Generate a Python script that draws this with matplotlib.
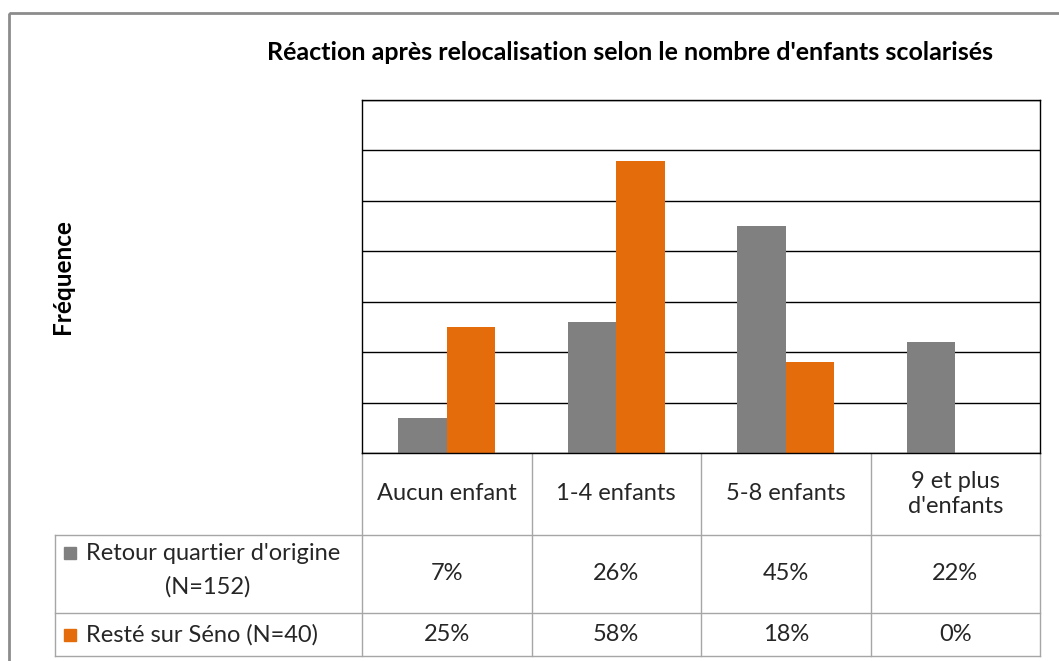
import matplotlib.pyplot as plt
from matplotlib.patches import Rectangle
import numpy as np

plt.rcParams['font.family'] = ['Lato', 'DejaVu Sans']

categories = ['Aucun enfant', '1-4 enfants', '5-8 enfants', '9 et plus\nd\'enfants']
series_names = ['Retour quartier d\'origine\n(N=152)', 'Resté sur Séno (N=40)']
retour = [7, 26, 45, 22]
reste = [25, 58, 18, 0]
colors = ['#808080', '#E46C0A']
title = 'Réaction après relocalisation selon le nombre d\'enfants scolarisés'

W, H = 1059, 661
fig = plt.figure(figsize=(W / 100, H / 100), dpi=100)

# zone du graphique (en pixels)
left, right, top, bottom = 362, 1040, 100, 453
ax = fig.add_axes([left / W, 1 - bottom / H, (right - left) / W, (bottom - top) / H])

x = np.arange(len(categories))
bw = 1 / 3.5
ax.bar(x - bw / 2, retour, bw, color=colors[0])
ax.bar(x + bw / 2, reste, bw, color=colors[1])
ax.set_xlim(-0.5, len(categories) - 0.5)
ax.set_ylim(0, 70)
ax.set_yticks(np.arange(0, 71, 10))
ax.yaxis.grid(True, color='black', linewidth=1)
ax.set_axisbelow(True)
ax.tick_params(left=False, bottom=False, labelleft=False, labelbottom=False)
for s in ax.spines.values():
    s.set_color('black')
    s.set_linewidth(1)

# calque pour le tableau et les textes, en pixels
ov = fig.add_axes([0, 0, 1, 1], zorder=-1)
ov.set_xlim(0, W)
ov.set_ylim(H, 0)
ov.axis('off')

ov.add_patch(Rectangle((9, 13), 1080, 700, fill=False, edgecolor='#8c8c8c', linewidth=2))

ov.text(630, 52, title, ha='center', va='center', fontsize=18, fontweight='bold')
ov.text(62, 277, 'Fréquence', ha='center', va='center', rotation=90, fontsize=17.5, fontweight='bold')

fs = 17
tc = '#262626'
lc = '#a6a6a6'
col_x = np.linspace(left, right, len(categories) + 1)
row_y = [bottom, 535, 613, 656]
for cx in col_x:
    ov.plot([cx, cx], [bottom, row_y[-1]], color=lc, linewidth=1)
ov.plot([55, 55], [row_y[1], row_y[-1]], color=lc, linewidth=1)
for ry in row_y[1:]:
    ov.plot([55, right], [ry, ry], color=lc, linewidth=1)

centers = (col_x[:-1] + col_x[1:]) / 2
for cx, cat in zip(centers, categories):
    ov.text(cx, (row_y[0] + row_y[1]) / 2, cat, ha='center', va='center', fontsize=fs,
            color=tc, linespacing=1.2)

for i, (vals, name) in enumerate(zip([retour, reste], series_names)):
    y0, y1 = row_y[i + 1], row_y[i + 2]
    ym = (y0 + y1) / 2
    for cx, v in zip(centers, vals):
        ov.text(cx, ym, f'{v}%', ha='center', va='center', fontsize=fs, color=tc)
    lines = name.split('\n')
    if len(lines) == 1:
        ov.add_patch(Rectangle((64, ym - 6), 12, 12, color=colors[i]))
        ov.text(86, ym, lines[0], ha='left', va='center', fontsize=fs, color=tc)
    else:
        ov.add_patch(Rectangle((64, 547), 12, 12, color=colors[i]))
        ov.text(86, 554, lines[0], ha='left', va='center', fontsize=fs, color=tc)
        ov.text(208, 587, lines[1], ha='center', va='center', fontsize=fs, color=tc)

fig.savefig('out.png', dpi=100)
